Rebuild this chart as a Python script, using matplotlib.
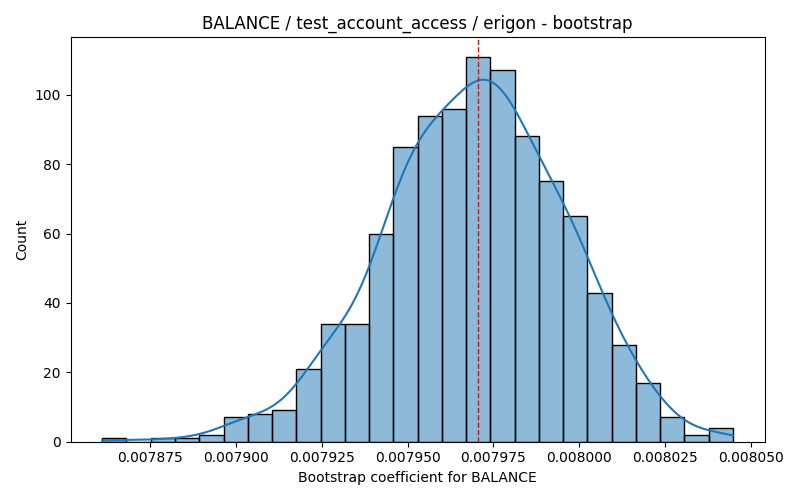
import matplotlib
matplotlib.use("Agg")
import matplotlib.pyplot as plt
import seaborn as sns
import numpy as np
import pandas as pd

# histogram (1000 bootstrap samples, 26 bins)
bin_start = 0.00786098
bin_end = 0.00804486
counts = [1, 0, 1, 1, 2, 7, 8, 9, 21, 34, 34, 60, 85, 94, 96, 111, 107, 88, 75, 65, 43, 28, 17, 7, 2, 4]
point_estimate = 0.0079704

edges = np.linspace(bin_start, bin_end, len(counts) + 1)
centers = (edges[:-1] + edges[1:]) / 2
df = pd.DataFrame({"coef": centers, "n": counts})

# weighted kde uses effective n (~13) for scott's rule, scale back to n=1000
w = np.array(counts, dtype=float)
n_eff = w.sum() ** 2 / (w ** 2).sum()
bw_fix = (w.sum() / n_eff) ** (-0.2)

fig, ax = plt.subplots(figsize=(8, 5), dpi=100)
sns.histplot(data=df, x="coef", weights="n", bins=list(edges), kde=True, ax=ax,
             kde_kws=dict(cut=3, clip=(edges[0], edges[-1]), bw_adjust=bw_fix))
ax.axvline(point_estimate, color="red", linestyle="--", linewidth=1)
ax.set_title("BALANCE / test_account_access / erigon - bootstrap")
ax.set_xlabel("Bootstrap coefficient for BALANCE")
ax.set_ylabel("Count")
plt.tight_layout()
plt.savefig("out.png")
